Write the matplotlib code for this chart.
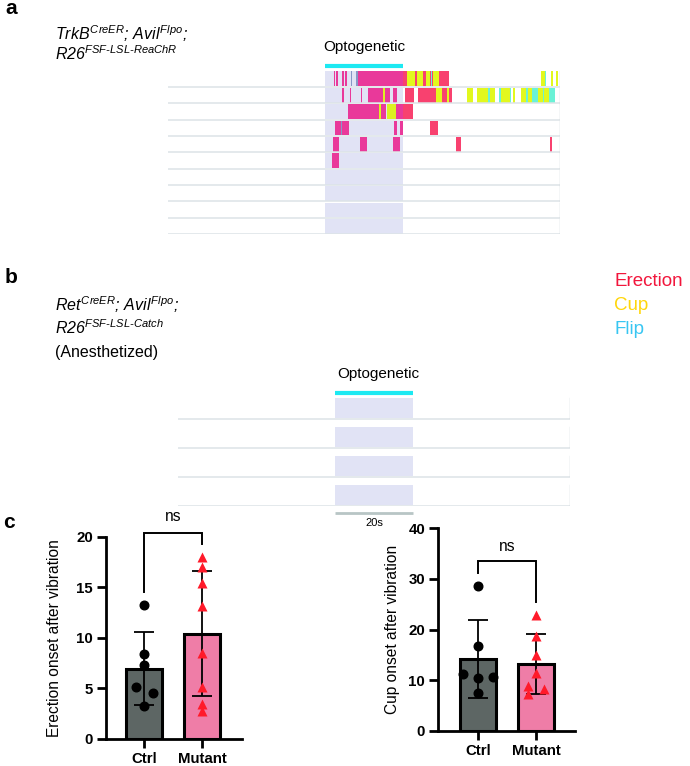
import matplotlib.pyplot as plt
from matplotlib.patches import Rectangle
from matplotlib.transforms import blended_transform_factory
import numpy as np

plt.rcParams['font.family'] = ['Liberation Sans', 'DejaVu Sans']
plt.rcParams['mathtext.fontset'] = 'custom'
plt.rcParams['mathtext.it'] = 'Liberation Sans:italic'
plt.rcParams['mathtext.rm'] = 'Liberation Sans:italic'
plt.rcParams['mathtext.bf'] = 'Liberation Sans:bold'

# --- panel a: behaviour bouts per trial, (start, end) in s from light onset
erection_a = [
    [(2.4, 2.7), (2.9, 3.3), (4.3, 4.8), (5.1, 5.6), (8.5, 20.9), (22.9, 23.6),
     (25.1, 25.9), (26.9, 27.6), (29.1, 31.7)],
    [(4.3, 4.8), (6.4, 6.7), (9.2, 9.6), (10.9, 14.9), (15.4, 16.6), (17.3, 18.5),
     (20.5, 22.8), (23.8, 28.4), (29.9, 31.1), (31.6, 32.5)],
    [(5.9, 13.7), (14.3, 15.7), (18.1, 22.4)],
    [(2.6, 4.1), (4.4, 6.2), (17.7, 18.5), (19.2, 20.0), (26.9, 28.9)],
    [(2.0, 3.5), (9.0, 10.7), (17.4, 19.1), (33.4, 34.7), (57.4, 58.0)],
    [(1.9, 3.5)],
]
cup_a = [
    [(20.9, 22.9), (23.6, 25.1), (25.9, 26.9), (27.6, 29.1), (55.1, 56.3),
     (57.8, 58.2), (59.0, 59.5)],
    [(14.9, 15.4), (28.4, 29.9), (31.1, 31.6), (36.2, 37.9), (38.9, 41.6),
     (42.2, 43.3), (45.0, 47.2), (48.0, 48.5), (50.0, 51.3), (51.8, 52.9),
     (54.4, 55.7), (56.0, 57.3)],
    [(13.7, 14.3), (15.8, 18.1)],
]
flip_a = [
    [(6.6, 7.0), (8.0, 8.5), (27.2, 27.4), (56.2, 56.5)],
    [(41.6, 42.2), (44.4, 45.0), (47.2, 47.6), (51.3, 51.8), (52.9, 54.4),
     (55.7, 56.0), (57.3, 58.7)],
    [],
    [(4.1, 4.4)],
]
n_trials_a = 10
n_trials_b = 4
stim = (0, 20)
t_range = (-40, 60)

# --- panel c
groups = ['Ctrl', 'Mutant']
erect_ctrl = [13.2, 8.4, 7.3, 5.1, 4.5, 3.3]
erect_mut = [18.0, 17.0, 15.4, 13.1, 8.5, 5.1, 3.5, 2.8]
cup_ctrl = [28.6, 16.8, 11.2, 10.4, 10.6, 7.5]
cup_mut = [22.9, 18.8, 15.0, 11.4, 8.9, 8.2, 7.4]

W, H = 690, 766
fig = plt.figure(figsize=(W / 100, H / 100), dpi=100)


def fy(y):
    return 1 - y / H


# colours (inside light window, outside)
ERECT = ('#E9399A', '#F8416F')
CUP = ('#DCF022', '#E2F81E')
FLIP = ('#8797C6', '#6AF2D6')
LAV = '#E1E3F5'
CYAN = '#1DE9F2'


def raster(left, top, right, bottom, n_rows, bar_h, erection, cup, flip):
    ax = fig.add_axes([left / W, fy(bottom), (right - left) / W, (bottom - top) / H])
    ax.set_xlim(*t_range)
    ax.set_ylim(n_rows, 0)
    ax.axis('off')
    for i in range(n_rows):
        y0 = i + 0.97 - bar_h
        ax.add_patch(Rectangle((stim[0], y0), stim[1] - stim[0], bar_h, color=LAV, lw=0))
        for bouts, (c_in, c_out) in ((erection, ERECT), (cup, CUP), (flip, FLIP)):
            if i >= len(bouts):
                continue
            for s, e in bouts[i]:
                parts = [(s, min(e, stim[0]), c_out),
                         (max(s, stim[0]), min(e, stim[1]), c_in),
                         (max(s, stim[1]), e, c_out)]
                for a, b, c in parts:
                    if b > a:
                        ax.add_patch(Rectangle((a, y0), b - a, bar_h, color=c, lw=0))
        ax.plot(t_range, [i + 1, i + 1], color='#DDE3E7', lw=1.1, solid_capstyle='butt')
        ax.plot([t_range[1]] * 2, [y0, i + 0.97], color='#CBD3D7', lw=1)
    return ax


# ---------------- panel a
fig.text(5 / W, fy(9), 'a', fontsize=15, fontweight='bold', va='center', ha='left')
fig.text(55 / W, fy(40), r'$TrkB^{CreER}$; $Avil^{Flpo}$;', fontsize=11.5,
         style='italic', va='baseline')
fig.text(55 / W, fy(60), r'$R26^{FSF\text{-}LSL\text{-}ReaChR}$', fontsize=11.5,
         style='italic', va='baseline')
ax_a = raster(168, 70.3, 560, 234.3, n_trials_a, 0.9, erection_a, cup_a, flip_a)
tr = blended_transform_factory(ax_a.transData, fig.transFigure)
ax_a.plot(stim, [fy(66)] * 2, transform=tr, color=CYAN, lw=3, clip_on=False,
          solid_capstyle='butt')
ax_a.text(10, fy(47), 'Optogenetic', transform=tr, ha='center', va='center',
          fontsize=11)

# ---------------- panel b
fig.text(5 / W, fy(278), 'b', fontsize=15, fontweight='bold', va='center', ha='left')
for txt, y in ((r'$Ret^{CreER}$; $Avil^{Flpo}$;', 311),
               (r'$R26^{FSF\text{-}LSL\text{-}Catch}$', 334)):
    fig.text(55 / W, fy(y), txt, fontsize=11.5, style='italic', va='baseline')
fig.text(55 / W, fy(357), '(Anesthetized)', fontsize=11.5, va='baseline')
for lab, col, y in (('Erection', '#F2163C', 281), ('Cup', '#FFD60A', 305),
                    ('Flip', '#38C6F2', 329)):
    fig.text(614 / W, fy(y), lab, color=col, fontsize=13.5, va='center')

ax_b = raster(178, 390, 570, 506, n_trials_b, 0.69, [], [], [])
tr = blended_transform_factory(ax_b.transData, fig.transFigure)
ax_b.plot(stim, [fy(393)] * 2, transform=tr, color=CYAN, lw=3, clip_on=False,
          solid_capstyle='butt')
ax_b.text(11, fy(374), 'Optogenetic', transform=tr, ha='center', va='center',
          fontsize=11)
ax_b.plot(stim, [fy(513)] * 2, transform=tr, color='#B8C5C5', lw=2, clip_on=False,
          solid_capstyle='butt')
ax_b.text(10, fy(523), '20s', transform=tr, ha='center', va='center', fontsize=8)

# ---------------- panel c
fig.text(3 / W, fy(523), 'c', fontsize=15, fontweight='bold', va='center', ha='left')


def bar_panel(rect, xlim, ctrl, mut, ctrl_dx, mut_dx, ymax, step, ylabel, lab_x,
              bracket, ns_y):
    ax = fig.add_axes(rect)
    data = [np.array(ctrl), np.array(mut)]
    means = [d.mean() for d in data]
    sds = [d.std(ddof=1) for d in data]
    ax.bar([0, 1], means, width=0.63, color=['#5D6664', '#EF7DA7'],
           edgecolor='black', linewidth=2.2, zorder=2)
    ax.errorbar([0, 1], means, yerr=sds, fmt='none', ecolor='black', elinewidth=1.3,
                capsize=7, capthick=1.3, zorder=3)
    ax.plot(np.array(ctrl_dx), ctrl, 'o', color='black', ms=6.2, zorder=4,
            clip_on=False)
    ax.plot(1 + np.array(mut_dx), mut, '^', color='#FF1A2A', ms=6.8, zorder=4,
            clip_on=False, mec='none')
    ax.set_xlim(*xlim)
    ax.set_ylim(0, ymax)
    ax.set_yticks(np.arange(0, ymax + 1, step))
    ax.set_xticks([0, 1])
    ax.set_xticklabels(groups)
    for sp in ('top', 'right'):
        ax.spines[sp].set_visible(False)
    for sp in ('left', 'bottom'):
        ax.spines[sp].set_linewidth(2)
    ax.tick_params(width=2, length=6.5, labelsize=10.8, pad=3)
    for t in ax.get_xticklabels() + ax.get_yticklabels():
        t.set_fontweight('bold')
    ax.set_ylabel(ylabel, fontsize=11.2)
    ax.yaxis.set_label_coords(lab_x, 0.5)
    b0, btop, b1 = bracket
    ax.plot([0, 0, 1, 1], [b0, btop, btop, b1], color='black', lw=1.4,
            clip_on=False, solid_joinstyle='miter')
    ax.text(0.5, ns_y, 'ns', ha='center', va='center', fontsize=11.2)
    return ax


bar_panel([106 / W, fy(739), 135.7 / W, 202.3 / H], (-0.655, 1.68),
          erect_ctrl, erect_mut,
          [0, 0, 0, -0.14, 0.15, 0], [0, 0, 0, 0, 0, 0, 0, 0],
          20, 5, 'Erection onset after vibration', -0.324, (14.5, 20.4, 19.3), 22)
bar_panel([438.3 / W, fy(731), 136.7 / W, 202.7 / H], (-0.68, 1.67),
          cup_ctrl, cup_mut,
          [0, 0, -0.26, 0, 0.26, 0], [0, 0, 0, 0, -0.14, 0.14, -0.14],
          40, 10, 'Cup onset after vibration', -0.28, (31.2, 33.6, 25.5), 36.5)

fig.savefig('out.png', dpi=100)
